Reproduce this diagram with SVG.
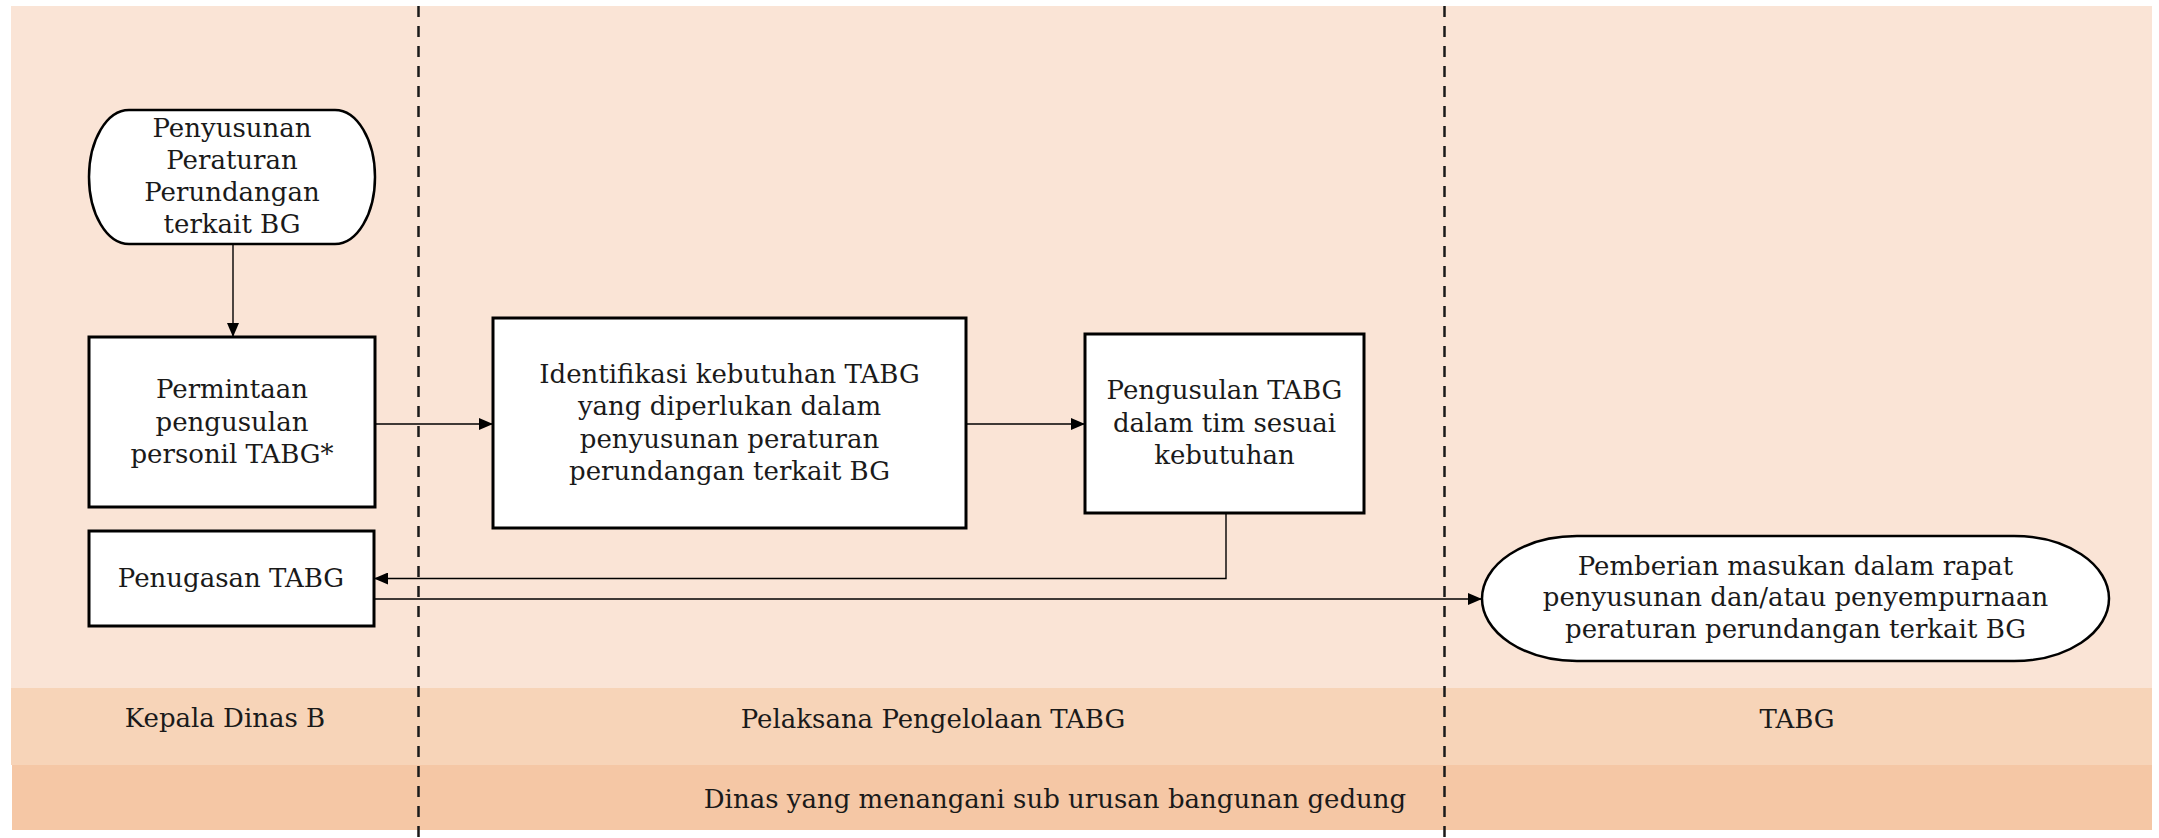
<svg xmlns="http://www.w3.org/2000/svg" width="2159" height="838" viewBox="0 0 2159 838">
  <defs>
    <marker id="arrow" viewBox="0 0 14 12" refX="14" refY="6" markerWidth="14" markerHeight="12" markerUnits="userSpaceOnUse" orient="auto">
      <path d="M0,0 L14,6 L0,12 Z" fill="#000"/>
    </marker>
    <style>
      .lane-a { fill: #FAE4D6; }
      .lane-b { fill: #F7D4B8; }
      .lane-c { fill: #F5C7A5; }
      .divider { stroke: #1a1a1a; stroke-width: 2.5; stroke-dasharray: 11 9; fill: none; }
      .box { fill: #fff; stroke: #000; stroke-width: 3; }
      .term { fill: #fff; stroke: #000; stroke-width: 2.5; }
      .conn { stroke: #000; stroke-width: 1.4; fill: none; }
      text { font-family: "DejaVu Serif", "Liberation Serif", serif; font-size: 26px; fill: #1a1a1a; text-anchor: middle; }
    </style>
  </defs>

  <!-- swimlane background -->
  <g id="lanes">
    <rect class="lane-a" x="11" y="6" width="2141" height="682"/>
    <rect class="lane-b" x="11" y="688" width="2141" height="77"/>
    <rect class="lane-c" x="12" y="765" width="2140" height="65"/>
    <text x="225" y="727">Kepala Dinas B</text>
    <text x="933" y="728">Pelaksana Pengelolaan TABG</text>
    <text x="1797" y="728">TABG</text>
    <text x="1055" y="808">Dinas yang menangani sub urusan bangunan gedung</text>
  </g>

  <!-- lane dividers -->
  <g id="dividers">
    <line class="divider" x1="418.5" y1="6" x2="418.5" y2="838"/>
    <line class="divider" x1="1444.5" y1="6" x2="1444.5" y2="838"/>
  </g>

  <!-- connectors -->
  <g id="connectors">
    <line class="conn" x1="233" y1="244" x2="233" y2="337" marker-end="url(#arrow)"/>
    <line class="conn" x1="375" y1="424" x2="493" y2="424" marker-end="url(#arrow)"/>
    <line class="conn" x1="966" y1="424" x2="1085" y2="424" marker-end="url(#arrow)"/>
    <path class="conn" d="M1226,513 V578.5 H374" marker-end="url(#arrow)"/>
    <line class="conn" x1="374" y1="599" x2="1482" y2="599" marker-end="url(#arrow)"/>
  </g>

  <g id="start">
    <rect class="term" x="89" y="110" width="286" height="134" rx="40" ry="67"/>
    <text x="232" y="137">Penyusunan</text>
    <text x="232" y="169">Peraturan</text>
    <text x="232" y="201">Perundangan</text>
    <text x="232" y="233">terkait BG</text>
  </g>

  <g id="permintaan">
    <rect class="box" x="89" y="337" width="286" height="170"/>
    <text x="232" y="398">Permintaan</text>
    <text x="232" y="431">pengusulan</text>
    <text x="232" y="463">personil TABG*</text>
  </g>

  <g id="identifikasi">
    <rect class="box" x="493" y="318" width="473" height="210"/>
    <text x="729.5" y="383">Identifikasi kebutuhan TABG</text>
    <text x="729.5" y="415">yang diperlukan dalam</text>
    <text x="729.5" y="448">penyusunan peraturan</text>
    <text x="729.5" y="480">perundangan terkait BG</text>
  </g>

  <g id="pengusulan">
    <rect class="box" x="1085" y="334" width="279" height="179"/>
    <text x="1224.5" y="399">Pengusulan TABG</text>
    <text x="1224.5" y="432">dalam tim sesuai</text>
    <text x="1224.5" y="464">kebutuhan</text>
  </g>

  <g id="penugasan">
    <rect class="box" x="89" y="531" width="285" height="95"/>
    <text x="231" y="587">Penugasan TABG</text>
  </g>

  <g id="pemberian">
    <rect class="term" x="1482" y="536" width="627" height="125" rx="95" ry="62.5"/>
    <text x="1795.5" y="575">Pemberian masukan dalam rapat</text>
    <text x="1795.5" y="606">penyusunan dan/atau penyempurnaan</text>
    <text x="1795.5" y="638">peraturan perundangan terkait BG</text>
  </g>
</svg>
